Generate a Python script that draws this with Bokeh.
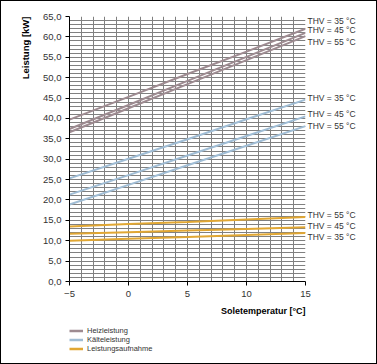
from bokeh.plotting import figure
from bokeh.models import (SingleIntervalTicker, FixedTicker, CustomJSTickFormatter,
                          Legend, LegendItem, Range1d, LinearAxis, Title)
from bokeh.layouts import column
from bokeh.embed import file_html
from bokeh.resources import INLINE

# ---- data ----
temps = [-5, 0, 5, 10, 15]
heiz_35 = [39.7, 45.3, 50.9, 56.4, 62.0]
heiz_45 = [37.4, 43.3, 49.2, 55.1, 61.0]
heiz_55 = [36.6, 42.5, 48.4, 54.3, 60.2]
kaelte_35 = [25.3, 30.1, 34.9, 39.8, 44.6]
kaelte_45 = [21.3, 26.1, 30.9, 35.7, 40.5]
kaelte_55 = [18.9, 23.7, 28.5, 33.3, 38.1]
aufn_35 = [10.0, 10.5, 10.9, 11.4, 11.9]
aufn_45 = [11.7, 12.1, 12.5, 12.9, 13.3]
aufn_55 = [13.5, 14.1, 14.6, 15.2, 15.8]
thv_labels = ["THV = 35 °C", "THV = 45 °C", "THV = 55 °C"]
series_names = ["Heizleistung", "Kälteleistung", "Leistungsaufnahme"]
x_ticks = [-5, 0, 5, 10, 15]
y_ticks = list(range(0, 70, 5))

# ---- styles ----
C_HEIZ = "#9e8b91"
C_KALT = "#a0bdd5"
C_AUFN = "#e1a733"
GRID = "#808080"
FONT = "Liberation Sans"
TXT = "#333333"

W = 375
H1, H2 = 319, 43
p = figure(width=W, height=H1, output_backend="svg", toolbar_location=None,
           x_range=Range1d(-5, 15), y_range=Range1d(0, 65),
           min_border_left=68, min_border_right=71, min_border_top=15, min_border_bottom=39)
p.outline_line_color = None
p.background_fill_color = "white"

p.xgrid.ticker = SingleIntervalTicker(interval=1)
p.ygrid.ticker = SingleIntervalTicker(interval=1)
for g in (p.xgrid, p.ygrid):
    g.grid_line_color = GRID
    g.grid_line_width = 1
    g.grid_line_alpha = 1

for ax in (p.xaxis, p.yaxis):
    ax.axis_line_color = "black"
    ax.axis_line_width = 1
    ax.major_tick_line_color = "black"
    ax.major_tick_out = 4
    ax.major_tick_in = 0
    ax.minor_tick_line_color = None
    ax.major_label_text_font = FONT
    ax.major_label_text_font_size = "9.5px"
    ax.major_label_text_color = TXT
p.xaxis.ticker = FixedTicker(ticks=x_ticks)
p.yaxis.ticker = FixedTicker(ticks=y_ticks)
p.yaxis.formatter = CustomJSTickFormatter(code="return tick.toFixed(1).replace('.', ',');")
p.xaxis.major_label_standoff = 5
p.yaxis.major_label_standoff = 4

groups = [
    (C_HEIZ, [heiz_35, heiz_45, heiz_55]),
    (C_KALT, [kaelte_35, kaelte_45, kaelte_55]),
    (C_AUFN, [aufn_35, aufn_45, aufn_55]),
]
label_offsets = [
    [2.0, 0.8, -1.5],
    [0.3, 0.5, 0.1],
    [-0.9, 0.2, 0.6],
]
thv_ticks = []
thv_overrides = {}
for (color, lines), offs in zip(groups, label_offsets):
    for ys, off, lab in zip(lines, offs, thv_labels):
        p.line(temps, ys, line_color=color, line_width=2)
        t = round(ys[-1] + off, 2)
        thv_ticks.append(t)
        thv_overrides[t] = lab

rax = LinearAxis(ticker=FixedTicker(ticks=thv_ticks), major_label_overrides=thv_overrides,
                 axis_line_color=None, major_tick_line_color=None, minor_tick_line_color=None,
                 major_tick_out=0, major_tick_in=0,
                 major_label_text_font=FONT, major_label_text_font_size="8.5px",
                 major_label_text_color=TXT, major_label_standoff=2)
p.add_layout(rax, "right")

p.add_layout(Title(text="Soletemperatur [°C]", align="right", text_font=FONT,
                   text_font_size="9px", text_font_style="bold", text_color="black",
                   standoff=8), "below")
p.add_layout(Title(text="Leistung [kW]", align="right", text_font=FONT,
                   text_font_size="9.5px", text_font_style="bold", text_color="black",
                   standoff=20), "left")

# legend strip below the chart
p2 = figure(width=W, height=H2, output_backend="svg", toolbar_location=None,
            x_range=Range1d(0, 1), y_range=Range1d(0, 1),
            x_axis_type=None, y_axis_type=None,
            min_border_left=0, min_border_right=0, min_border_top=0, min_border_bottom=0)
p2.outline_line_color = None
p2.grid.visible = False
items = []
for (color, _), name in zip(groups, series_names):
    r = p2.line([5, 6], [5, 6], line_color=color, line_width=2.5)
    items.append(LegendItem(label=name, renderers=[r]))
legend = Legend(items=items, location=(0, 10), orientation="vertical",
                label_text_font=FONT, label_text_font_size="7.5px", label_text_color=TXT,
                glyph_width=14, glyph_height=9, label_height=9, spacing=0,
                label_standoff=4, padding=0, margin=0,
                border_line_color=None, background_fill_alpha=0)
p2.add_layout(legend, "center")

layout = column(p, p2, spacing=0, styles={"border": "1px solid black"})
open("out.html", "w").write(file_html(layout, INLINE))
